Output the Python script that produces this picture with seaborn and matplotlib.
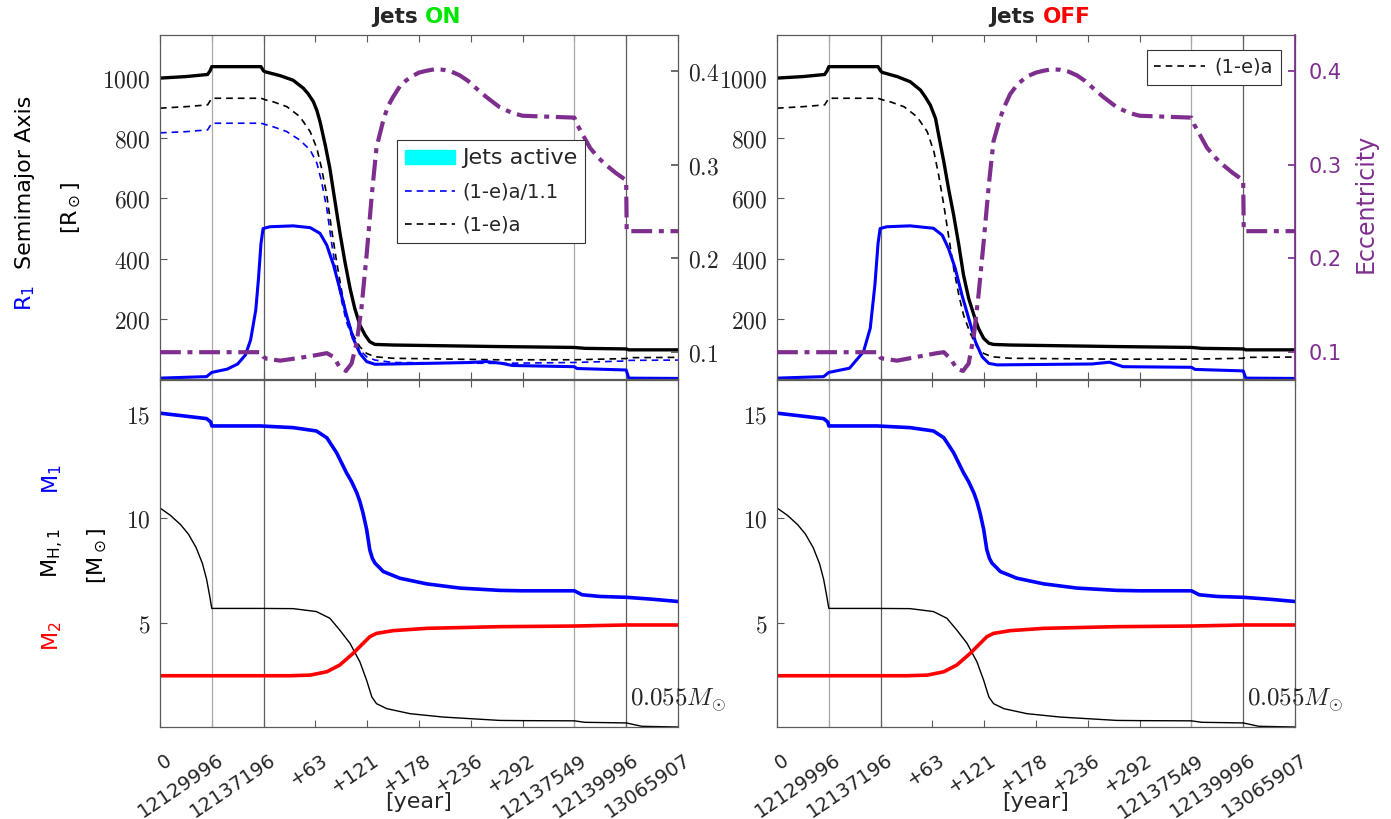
import matplotlib
matplotlib.use("Agg")
import matplotlib.pyplot as plt
import seaborn as sns
from matplotlib.patches import Patch
from matplotlib.lines import Line2D
from matplotlib.transforms import ScaledTranslation

# x axis = event index (time axis is not uniform), labels read from the figure
x_labels = ["0", "12129996", "12137196", "+63", "+121", "+178", "+236",
            "+292", "12137549", "12139996", "13065907"]
event_idx = [1, 2, 8, 9]

# ---------------- Jets ON : orbit panel ----------------
on_a_x = [0, 0.5, 0.92, 0.97, 1.0, 1.95, 2.0, 2.03, 2.32, 2.57, 2.77, 2.86, 2.96, 3.03,
          3.09, 3.19, 3.28, 3.38, 3.47, 3.57, 3.67, 3.76, 3.86, 3.96, 4.05, 4.15, 4.5,
          6.5, 8.0, 8.2, 9.0, 9.05, 10]
on_a = [1000, 1005, 1012, 1025, 1038, 1038, 1024, 1021, 1008, 993, 966, 948, 922, 892,
        855, 778, 700, 589, 490, 390, 301, 235, 179, 146, 124, 115, 113,
        108, 105, 102, 100, 97, 97]

on_ae_x = [0, 0.5, 0.92, 1.0, 1.95, 2.05, 2.19, 2.45, 2.70, 2.90, 3.03, 3.12, 3.22, 3.31,
           3.41, 3.51, 3.60, 3.73, 3.86, 3.99, 4.15, 4.5, 6.5, 8.0, 9.0, 9.05, 10]
on_ae = [900, 905, 911, 933, 933, 927, 921, 905, 872, 822, 766, 700, 611, 501,
         390, 290, 213, 146, 107, 85, 74, 69, 64, 64, 68, 71, 72]
on_ae11 = [818, 822, 828, 850, 850, 845, 838, 822, 794, 761, 717, 656, 567, 456,
           346, 257, 190, 130, 96, 74, 63, 55, 52, 55, 60, 62, 63]

on_r1_x = [0, 0.9, 1.0, 1.3, 1.5, 1.65, 1.75, 1.85, 1.9, 1.95, 1.99, 2.12, 2.57, 2.90,
           3.09, 3.22, 3.35, 3.47, 3.60, 3.73, 3.86, 3.99, 4.15, 5.15, 6.0, 6.3, 6.6,
           6.8, 8.0, 8.05, 9.0, 9.05, 10]
on_r1 = [3, 8, 22, 33, 50, 80, 130, 230, 330, 450, 500, 506, 509, 503,
         484, 445, 379, 301, 213, 135, 85, 58, 49, 52, 55, 58, 52,
         45, 41, 35, 30, 3, 2]

on_ecc_x = [0, 1.95, 2.0, 2.06, 2.32, 2.70, 3.03, 3.22, 3.35, 3.47, 3.59, 3.70, 3.80,
            3.89, 3.99, 4.09, 4.18, 4.31, 4.40, 4.50, 4.65, 4.83, 5.0, 5.15, 5.3, 5.47,
            5.63, 5.79, 5.95, 6.11, 6.3, 6.56, 6.8, 7.0, 7.5, 8.0, 8.05, 8.15, 8.3,
            8.45, 8.6, 8.8, 8.98, 9.0, 9.01, 10]
on_ecc = [0.100, 0.100, 0.095, 0.093, 0.091, 0.094, 0.097, 0.099, 0.095, 0.084, 0.080,
          0.088, 0.111, 0.147, 0.204, 0.268, 0.318, 0.347, 0.362, 0.372, 0.385, 0.393,
          0.398, 0.400, 0.4015, 0.401, 0.399, 0.395, 0.389, 0.381, 0.372, 0.361, 0.355,
          0.352, 0.351, 0.350, 0.343, 0.333, 0.318, 0.308, 0.300, 0.291, 0.284, 0.282,
          0.229, 0.229]

# ---------------- Jets OFF : orbit panel ----------------
off_a_x = [0, 0.5, 0.92, 0.97, 1.0, 1.95, 2.0, 2.03, 2.32, 2.57, 2.77, 2.86, 2.96, 3.06,
           3.12, 3.22, 3.31, 3.41, 3.51, 3.60, 3.70, 3.80, 3.89, 3.99, 4.09, 4.18, 4.5,
           6.5, 8.0, 8.2, 9.0, 9.05, 10]
off_a = [1000, 1005, 1012, 1025, 1038, 1038, 1024, 1019, 1005, 988, 960, 938, 910, 866,
         811, 722, 634, 545, 445, 346, 268, 213, 168, 135, 119, 115, 113,
         108, 105, 102, 100, 97, 97]

off_ae_x = [0, 0.5, 0.92, 1.0, 1.95, 2.05, 2.19, 2.45, 2.70, 2.90, 3.03, 3.12, 3.22, 3.31,
            3.41, 3.51, 3.60, 3.73, 3.86, 3.99, 4.15, 4.5, 6.5, 8.0, 9.0, 9.05, 10]
off_ae = [900, 905, 911, 933, 933, 927, 921, 905, 872, 822, 755, 678, 578, 478,
          368, 279, 213, 152, 107, 85, 74, 69, 66, 66, 69, 72, 73]

off_r1_x = [0, 0.9, 1.0, 1.4, 1.67, 1.8, 1.89, 1.95, 1.99, 2.12, 2.57, 3.02, 3.19, 3.31,
            3.44, 3.57, 3.70, 3.83, 3.96, 4.09, 4.25, 6.08, 6.42, 6.68, 8.0, 8.07, 9.0,
            9.05, 10]
off_r1 = [3, 8, 22, 36, 91, 169, 313, 450, 500, 506, 509, 501, 478, 434,
          368, 279, 202, 124, 74, 52, 47, 50, 56, 41, 39, 32, 27,
          3, 2]

off_ecc_x = [0, 1.95, 2.0, 2.06, 2.32, 2.70, 3.09, 3.22, 3.35, 3.47, 3.59, 3.70, 3.80,
             3.89, 3.99, 4.09, 4.18, 4.31, 4.40, 4.50, 4.65, 4.83, 5.0, 5.15, 5.3, 5.47,
             5.63, 5.79, 5.95, 6.11, 6.3, 6.56, 6.8, 7.0, 7.5, 8.0, 8.05, 8.15, 8.3,
             8.45, 8.6, 8.8, 8.98, 9.0, 9.01, 10]
off_ecc = [0.100, 0.100, 0.094, 0.093, 0.091, 0.095, 0.099, 0.100, 0.093, 0.0825, 0.080,
           0.088, 0.118, 0.161, 0.218, 0.279, 0.325, 0.350, 0.363, 0.375, 0.386, 0.394,
           0.398, 0.400, 0.4015, 0.401, 0.399, 0.395, 0.389, 0.381, 0.372, 0.361, 0.355,
           0.352, 0.351, 0.350, 0.343, 0.333, 0.318, 0.308, 0.300, 0.291, 0.284, 0.282,
           0.229, 0.229]

# ---------------- masses (same in both runs) ----------------
m1_x = [0, 0.9, 0.98, 1.0, 1.93, 2.57, 3.02, 3.22, 3.41, 3.60, 3.70, 3.80, 3.86, 3.92,
        3.99, 4.05, 4.10, 4.15, 4.22, 4.31, 4.63, 5.15, 5.79, 6.56, 7.0, 8.0, 8.15, 8.5,
        9.0, 9.5, 10]
m1 = [15.02, 14.76, 14.6, 14.41, 14.41, 14.33, 14.17, 13.85, 13.13, 12.18, 11.75, 11.22,
      10.8, 10.26, 9.47, 8.51, 8.1, 7.87, 7.7, 7.47, 7.15, 6.88, 6.68, 6.57, 6.55, 6.55,
      6.36, 6.28, 6.24, 6.15, 6.04]

mh_x = [0, 0.2, 0.4, 0.55, 0.7, 0.82, 0.9, 0.96, 1.0, 1.93, 2.57, 3.02, 3.28, 3.47, 3.67,
        3.86, 3.99, 4.09, 4.18, 4.38, 4.83, 5.47, 6.56, 7.0, 8.0, 8.2, 9.0, 9.3, 10]
mh = [10.5, 10.15, 9.7, 9.25, 8.6, 7.85, 7.1, 6.3, 5.71, 5.71, 5.70, 5.56, 5.24, 4.68,
      4.04, 3.16, 2.28, 1.49, 1.17, 0.93, 0.69, 0.53, 0.37, 0.36, 0.35, 0.28, 0.25, 0.09,
      0.055]

m2_x = [0, 2.5, 2.90, 3.22, 3.47, 3.73, 3.92, 4.05, 4.18, 4.50, 5.15, 6.56, 8.0, 9.0, 10]
m2 = [2.50, 2.50, 2.53, 2.69, 3.01, 3.57, 4.04, 4.36, 4.52, 4.65, 4.76, 4.84, 4.87,
      4.92, 4.92]

# ---------------- style ----------------
sns.set_theme(style="white")
plt.rcParams["font.family"] = ["DejaVu Sans"]
plt.rcParams["mathtext.fontset"] = "cm"

PURPLE = "#7E2F8E"
BLUE = "#0000FF"
RED = "#FF0000"
SPINE = "#5a5a5a"
vline_colors = ["#a8a8a8", "#5e5e5e", "#a8a8a8", "#5e5e5e"]

fig = plt.figure(figsize=(13.91, 8.19), dpi=100)
fig.patch.set_facecolor("white")


def line(ax, x, y, color, lw, ls="-"):
    sns.lineplot(x=x, y=y, ax=ax, color=color, linewidth=lw, linestyle=ls,
                 estimator=None, sort=False, legend=False)


def frame(ax):
    ax.set_xlim(0, 10)
    ax.set_xticks(range(len(x_labels)))
    ax.tick_params(axis="both", direction="in", length=5, width=0.8, color=SPINE,
                   top=True, bottom=True, left=True, right=False)
    for s in ax.spines.values():
        s.set_color(SPINE)
        s.set_linewidth(0.9)
    for xv, c in zip(event_idx, vline_colors):
        ax.axvline(xv, color=c, lw=0.9, zorder=1)
    ax.set_xlabel("")
    ax.set_ylabel("")


def orbit_panel(left, a_x, a, ae_x, ae, r1_x, r1, ecc_x, ecc, ae11, right_side):
    ax = fig.add_axes([left, 0.5372, 0.3724, 0.4200])
    frame(ax)
    if ae11 is not None:
        line(ax, ae_x, ae11, BLUE, 1.2, (0, (4, 3)))
    line(ax, ae_x, ae, "black", 1.2, (0, (4, 3)))
    line(ax, r1_x, r1, BLUE, 2.2)
    line(ax, a_x, a, "black", 2.4)
    ax.set_ylim(0, 1143)
    ax.set_yticks([200, 400, 600, 800, 1000],
                  labels=[f"${v}$" for v in [200, 400, 600, 800, 1000]], fontsize=17)
    ax.tick_params(axis="y", pad=7)
    ax.tick_params(axis="x", labelbottom=False)

    ax2 = ax.twinx()
    line(ax2, ecc_x, ecc, PURPLE, 3.0, (0, (5, 1.6, 1.2, 1.6)))
    ax2.set_ylim(0.0714, 0.438)
    ax2.set_ylabel("")
    ax2.set_xlim(0, 10)
    ecc_ticks = [0.1, 0.2, 0.3, 0.4]
    for s in ax2.spines.values():
        s.set_visible(False)
    if right_side:
        ax2.spines["right"].set_visible(True)
        ax2.spines["right"].set_color(PURPLE)
        ax2.set_yticks(ecc_ticks, labels=[str(v) for v in ecc_ticks], fontsize=15,
                       color=PURPLE)
        ax2.tick_params(axis="y", direction="in", length=5, color=PURPLE, pad=10)
    else:
        ax2.set_yticks(ecc_ticks, labels=[f"${v}$" for v in ecc_ticks], fontsize=17)
        ax2.tick_params(axis="y", direction="in", length=5, color=SPINE, pad=7)
    return ax, ax2


def mass_panel(left):
    ax = fig.add_axes([left, 0.1123, 0.3724, 0.4237])
    frame(ax)
    line(ax, mh_x, mh, "black", 1.0)
    line(ax, m2_x, m2, RED, 2.6)
    line(ax, m1_x, m1, BLUE, 2.6)
    ax.set_ylim(0.055, 16.6)
    ax.set_yticks([5, 10, 15], labels=["$5$", "$10$", "$15$"], fontsize=17)
    ax.tick_params(axis="y", pad=7)
    ax.tick_params(axis="x", pad=17)
    ax.set_xticklabels(x_labels, fontsize=14, rotation=34,
                       ha="right", va="top", rotation_mode="anchor")
    shift = ScaledTranslation(0.05, 0, fig.dpi_scale_trans)
    for lab in ax.get_xticklabels():
        lab.set_transform(lab.get_transform() + shift)
    ax.set_xlabel("[year]", fontsize=16)
    ax.xaxis.set_label_coords(0.5, -0.187)
    ax.text(9.07, 1.07, r"$0.055M_{\odot}$", fontsize=18, clip_on=False)
    return ax


# left column : Jets ON
topL, topL2 = orbit_panel(0.1150, on_a_x, on_a, on_ae_x, on_ae, on_r1_x, on_r1,
                          on_ecc_x, on_ecc, on_ae11, right_side=False)
botL = mass_panel(0.1150)

# right column : Jets OFF
topR, topR2 = orbit_panel(0.5586, off_a_x, off_a, off_ae_x, off_ae, off_r1_x, off_r1,
                          off_ecc_x, off_ecc, None, right_side=True)
botR = mass_panel(0.5586)

# legends
h_jets = Patch(facecolor="#00FFFF", edgecolor="#00FFFF", label="Jets active")
h_blue = Line2D([], [], color=BLUE, lw=1.2, ls=(0, (4, 3)), label="(1-e)a/1.1")
h_black = Line2D([], [], color="black", lw=1.2, ls=(0, (4, 3)), label="(1-e)a")
legL = topL2.legend(handles=[h_jets, h_blue, h_black], loc="upper left",
                    bbox_to_anchor=(0.4575, 0.695), borderaxespad=0, fontsize=14,
                    frameon=True, fancybox=False, edgecolor="#333333", framealpha=1,
                    handlelength=2.6, handletextpad=0.35, labelspacing=0.75,
                    borderpad=0.4)
legL.get_texts()[0].set_fontsize(16)
legL.get_frame().set_linewidth(0.8)
legR = topR2.legend(handles=[h_black], loc="upper right", bbox_to_anchor=(0.973, 0.956),
                    borderaxespad=0, fontsize=14, frameon=True, fancybox=False,
                    edgecolor="#333333", framealpha=1, handlelength=2.6,
                    handletextpad=0.5, borderpad=0.4)
legR.get_frame().set_linewidth(0.8)

# titles
fig.text(0.3055, 0.972, "Jets ", fontsize=15.5, fontweight="bold", ha="right",
         va="baseline")
fig.text(0.3055, 0.972, "ON", fontsize=15.5, fontweight="bold", color="#00E600",
         ha="left", va="baseline")
fig.text(0.7495, 0.972, "Jets ", fontsize=15.5, fontweight="bold", ha="right",
         va="baseline")
fig.text(0.7495, 0.972, "OFF", fontsize=15.5, fontweight="bold", color=RED,
         ha="left", va="baseline")

# y labels
lab_kw = dict(rotation=90, rotation_mode="anchor", ha="center", va="baseline",
              fontsize=16, math_fontfamily="dejavusans")
fig.text(0.0223, 0.636, r"R$_1$", color=BLUE, **lab_kw)
fig.text(0.0223, 0.778, "Semimajor Axis", color="black", **lab_kw)
fig.text(0.0554, 0.746, r"[R$_\odot$]", color="black", **lab_kw)
fig.text(0.0417, 0.415, r"M$_1$", color=BLUE, **lab_kw)
fig.text(0.0417, 0.325, r"M$_{\rm H,1}$", color="black", **lab_kw)
fig.text(0.0740, 0.322, r"[M$_\odot$]", color="black", **lab_kw)
fig.text(0.0417, 0.223, r"M$_2$", color=RED, **lab_kw)
fig.text(0.987, 0.752, "Eccentricity", color=PURPLE, rotation=90, rotation_mode="anchor",
         ha="center", va="baseline", fontsize=17)

fig.savefig("out.png", dpi=100, facecolor="white")
